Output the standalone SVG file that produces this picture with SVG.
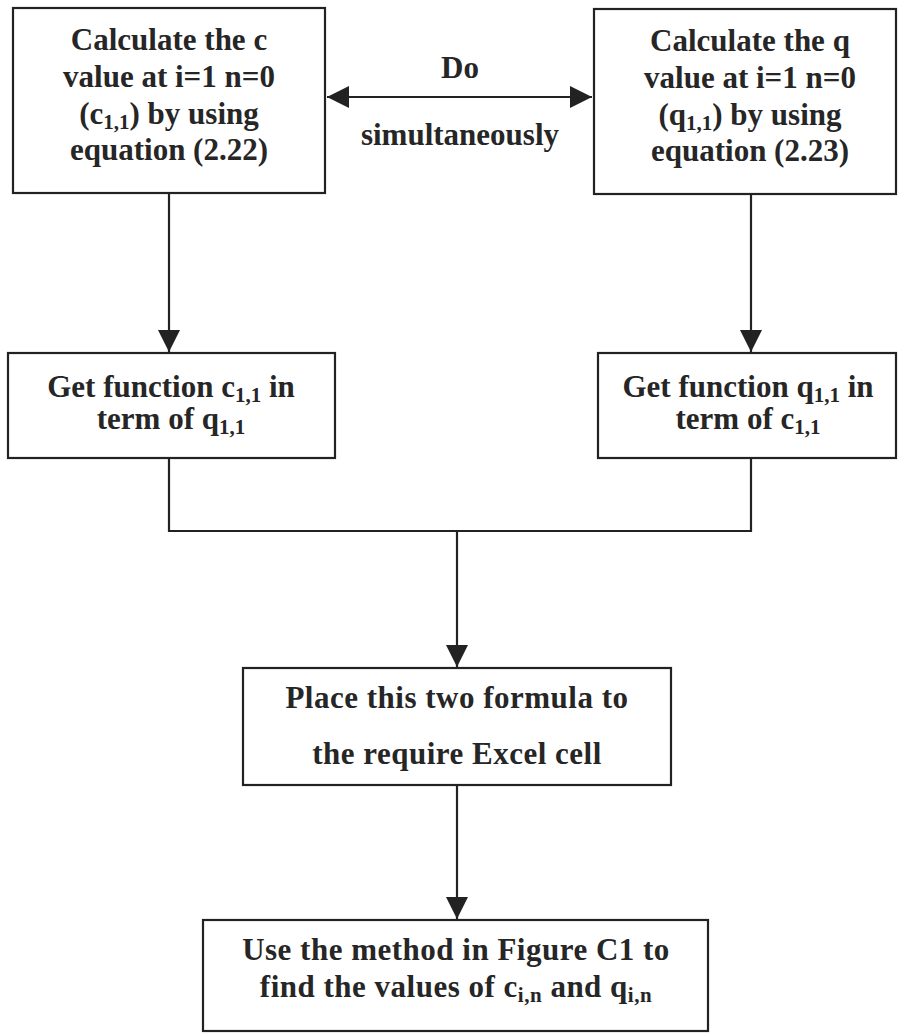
<svg xmlns="http://www.w3.org/2000/svg" width="900" height="1034" viewBox="0 0 900 1034">
<style>
.box{fill:#fff;stroke:#222;stroke-width:2.2}
.ln{fill:none;stroke:#222;stroke-width:2.2}
text{font-family:"Liberation Serif","Times New Roman",serif;font-weight:bold;font-size:31px;fill:#262626;text-anchor:middle}
.sub{font-size:21px}
</style>
<defs>
<marker id="ah" markerUnits="userSpaceOnUse" markerWidth="24" markerHeight="22" refX="22" refY="11" orient="auto-start-reverse">
<path d="M0,0 L22,11 L0,22 Z" fill="#222"/>
</marker>
</defs>
<rect width="900" height="1034" fill="#fff"/>
<g id="connectors">
<line class="ln" x1="327" y1="97" x2="592" y2="97" marker-start="url(#ah)" marker-end="url(#ah)"/>
<line class="ln" x1="169" y1="193" x2="169" y2="352" marker-end="url(#ah)"/>
<line class="ln" x1="751" y1="194" x2="751" y2="352" marker-end="url(#ah)"/>
<polyline class="ln" points="169,458 169,531 751,531 751,458"/>
<line class="ln" x1="457" y1="531" x2="457" y2="667" marker-end="url(#ah)"/>
<line class="ln" x1="457" y1="785" x2="457" y2="919" marker-end="url(#ah)"/>
<text x="460" y="78">Do</text>
<text x="460" y="145">simultaneously</text>
</g>
<g id="calc_c">
<rect class="box" x="13" y="8" width="312" height="185"/>
<text x="169" y="50">Calculate the c</text>
<text x="169" y="87">value at i=1 n=0</text>
<text x="169" y="124">(c<tspan class="sub" dy="5">1,1</tspan><tspan dy="-5">) by using</tspan></text>
<text x="169" y="160">equation (2.22)</text>
</g>
<g id="calc_q">
<rect class="box" x="594" y="9" width="302" height="185"/>
<text x="750" y="51">Calculate the q</text>
<text x="750" y="88">value at i=1 n=0</text>
<text x="750" y="125">(q<tspan class="sub" dy="5">1,1</tspan><tspan dy="-5">) by using</tspan></text>
<text x="750" y="161">equation (2.23)</text>
</g>
<g id="func_c">
<rect class="box" x="8" y="353" width="327" height="105"/>
<text x="171" y="397">Get function c<tspan class="sub" dy="5">1,1</tspan><tspan dy="-5"> in</tspan></text>
<text x="171" y="429">term of q<tspan class="sub" dy="5">1,1</tspan></text>
</g>
<g id="func_q">
<rect class="box" x="598" y="353" width="298" height="105"/>
<text x="748" y="397">Get function q<tspan class="sub" dy="5">1,1</tspan><tspan dy="-5"> in</tspan></text>
<text x="748" y="429">term of c<tspan class="sub" dy="5">1,1</tspan></text>
</g>
<g id="place">
<rect class="box" x="243" y="668" width="428" height="117"/>
<text x="457" y="708" letter-spacing="0.5">Place this two formula to</text>
<text x="457" y="764" letter-spacing="0.5">the require Excel cell</text>
</g>
<g id="use_method">
<rect class="box" x="203" y="920" width="505" height="111"/>
<text x="456" y="960" letter-spacing="0.5">Use the method in Figure C1 to</text>
<text x="456" y="997" letter-spacing="0.5">find the values of c<tspan class="sub" dy="5">i,n</tspan><tspan dy="-5"> and q</tspan><tspan class="sub" dy="5">i,n</tspan></text>
</g>
</svg>
